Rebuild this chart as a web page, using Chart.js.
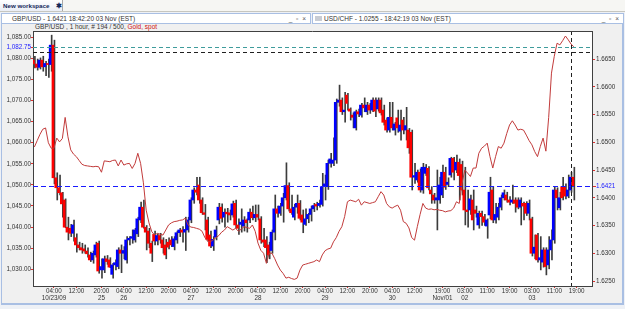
<!DOCTYPE html>
<html>
<head>
<meta charset="utf-8">
<script src="https://cdn.jsdelivr.net/npm/chart.js@4.4.0/dist/chart.umd.min.js"></script>
<style>
  html, body { margin: 0; padding: 0; }
  body { width: 625px; height: 309px; position: relative; overflow: hidden; background: #eef1f6; font-family: "Liberation Sans", Arial, sans-serif; }
  #tabs { position: absolute; left: 0; top: 0; width: 625px; height: 11px; background: #f6f6f3; border-bottom: 1px solid #c6c6bf; }
  #tab { position: absolute; left: 0; top: 0; width: 63px; height: 11px; box-sizing: border-box; padding-left: 3px; background: linear-gradient(#ffffff, #eaeef6); border-right: 1px solid #a8a8a8; font: bold 6.2px "Liberation Sans"; line-height: 11px; color: #15285a; }
  #tab .star { position: absolute; left: 56px; top: 0; font-size: 6.5px; }
  #chartbg { position: absolute; left: 1px; top: 23px; width: 620px; height: 280px; background: #f0f0f0; border-left: 1px solid #a9bfe3; border-right: 2px solid #a9bfe3; border-bottom: 2px solid #a9bfe3; }
  .head { position: absolute; top: 13px; height: 9px; background: #fff; border: 1px solid #a9bfe3; font: 6.5px "Liberation Sans"; line-height: 9px; color: #333; }
  #h1 { left: 1px; width: 308px; }
  #h2 { left: 312px; width: 310px; }
  .head .ttl { position: absolute; left: 10px; top: 0; }
  #h2 .ttl { left: 11px; }
  .head .ico { position: absolute; left: 2px; top: 2px; width: 7px; height: 5px; background: #c8ccd4; }
  .head .btn { position: absolute; right: 3px; top: 0; letter-spacing: 1px; color: #555; }
  #sub { position: absolute; left: 35px; top: 23px; font: 6.5px "Liberation Sans"; line-height: 8px; color: #333; }
  #sub .red { color: #d01010; }
  #c { position: absolute; left: 0; top: 0; }
</style>
</head>
<body>
<div id="tabs"><div id="tab">New workspace <span class="star">✱</span></div></div>
<div id="chartbg"></div>
<div class="head" id="h1"><span class="ttl">GBP/USD - 1.6421 18:42:20 03 Nov (EST)</span><span class="btn">_ ▫ ×</span></div>
<div class="head" id="h2"><span class="ico"></span><span class="ttl">USD/CHF - 1.0255 - 18:42:19 03 Nov (EST)</span><span class="btn">_ ▫ ×</span></div>
<div id="sub">GBP/USD , 1 hour, # 194 / 500, <span class="red">Gold, spot</span></div>
<canvas id="c" width="625" height="309"></canvas>

<script>
// GBP/USD hourly candles (right axis) with Gold spot line (left axis)

const slotCount = 200; // bar slots on the x axis, 194 filled

const open = [
  1.6648,1.6641,1.6635,1.6648,1.6636,1.6642,1.6640,1.6675,1.6436,1.6418,
  1.6409,1.6396,1.6347,1.6345,1.6336,1.6328,1.6315,1.6310,1.6308,1.6304,
  1.6297,1.6288,1.6297,1.6318,1.6270,1.6270,1.6290,1.6288,1.6262,1.6279,
  1.6276,1.6306,1.6300,1.6288,1.6324,1.6327,1.6324,1.6335,1.6360,1.6383,
  1.6347,1.6340,1.6318,1.6334,1.6322,1.6332,1.6324,1.6315,1.6320,1.6324,
  1.6312,1.6324,1.6337,1.6342,1.6338,1.6342,1.6360,1.6396,1.6414,1.6423,
  1.6396,1.6373,1.6360,1.6333,1.6313,1.6329,1.6360,1.6383,1.6365,1.6374,
  1.6373,1.6369,1.6390,1.6351,1.6352,1.6349,1.6360,1.6360,1.6374,1.6364,
  1.6370,1.6362,1.6324,1.6324,1.6315,1.6305,1.6338,1.6380,1.6372,1.6385,
  1.6400,1.6422,1.6380,1.6365,1.6383,1.6390,1.6369,1.6352,1.6362,1.6370,
  1.6380,1.6388,1.6386,1.6388,1.6420,1.6420,1.6462,1.6462,1.6468,1.6572,
  1.6576,1.6555,1.6585,1.6560,1.6549,1.6526,1.6555,1.6549,1.6567,1.6555,
  1.6567,1.6558,1.6576,1.6560,1.6576,1.6558,1.6540,1.6522,1.6545,1.6522,
  1.6544,1.6520,1.6540,1.6522,1.6522,1.6518,1.6437,1.6432,1.6446,1.6414,
  1.6444,1.6453,1.6414,1.6405,1.6396,1.6396,1.6405,1.6446,1.6424,1.6441,
  1.6471,1.6450,1.6464,1.6460,1.6414,1.6378,1.6378,1.6396,1.6378,1.6351,
  1.6372,1.6366,1.6349,1.6369,1.6414,1.6360,1.6365,1.6383,1.6400,1.6405,
  1.6396,1.6392,1.6396,1.6396,1.6383,1.6390,1.6390,1.6372,1.6362,1.6300,
  1.6333,1.6288,1.6284,1.6306,1.6279,1.6306,1.6324,1.6414,1.6382,1.6420,
  1.6420,1.6403,1.6414,1.6437
];
const high = [
  1.6655,1.6650,1.6652,1.6655,1.6646,1.6650,1.6693,1.6684,1.6445,1.6441,
  1.6410,1.6398,1.6365,1.6352,1.6360,1.6335,1.6320,1.6318,1.6315,1.6310,
  1.6302,1.6304,1.6320,1.6322,1.6290,1.6295,1.6296,1.6292,1.6282,1.6288,
  1.6310,1.6315,1.6312,1.6330,1.6330,1.6342,1.6345,1.6365,1.6392,1.6396,
  1.6350,1.6345,1.6322,1.6340,1.6335,1.6336,1.6328,1.6325,1.6328,1.6330,
  1.6330,1.6340,1.6345,1.6348,1.6365,1.6365,1.6400,1.6418,1.6437,1.6437,
  1.6400,1.6388,1.6365,1.6340,1.6330,1.6349,1.6390,1.6389,1.6380,1.6381,
  1.6378,1.6394,1.6396,1.6362,1.6380,1.6366,1.6362,1.6380,1.6385,1.6387,
  1.6387,1.6366,1.6345,1.6330,1.6320,1.6342,1.6405,1.6385,1.6390,1.6408,
  1.6463,1.6427,1.6405,1.6388,1.6405,1.6395,1.6378,1.6380,1.6372,1.6385,
  1.6390,1.6392,1.6396,1.6444,1.6441,1.6468,1.6480,1.6508,1.6578,1.6603,
  1.6580,1.6590,1.6588,1.6562,1.6553,1.6558,1.6560,1.6570,1.6580,1.6572,
  1.6570,1.6580,1.6580,1.6580,1.6580,1.6567,1.6544,1.6572,1.6572,1.6536,
  1.6558,1.6558,1.6545,1.6563,1.6525,1.6522,1.6462,1.6450,1.6452,1.6462,
  1.6460,1.6456,1.6420,1.6408,1.6450,1.6437,1.6459,1.6455,1.6436,1.6473,
  1.6473,1.6477,1.6470,1.6466,1.6455,1.6414,1.6405,1.6414,1.6385,1.6376,
  1.6376,1.6370,1.6362,1.6437,1.6420,1.6390,1.6390,1.6405,1.6414,1.6410,
  1.6402,1.6423,1.6400,1.6400,1.6400,1.6392,1.6393,1.6396,1.6365,1.6333,
  1.6336,1.6330,1.6310,1.6310,1.6330,1.6342,1.6420,1.6418,1.6410,1.6437,
  1.6425,1.6441,1.6446,1.6455
];
const low = [
  1.6634,1.6630,1.6632,1.6628,1.6620,1.6617,1.6628,1.6425,1.6396,1.6405,
  1.6365,1.6346,1.6324,1.6330,1.6322,1.6302,1.6306,1.6300,1.6300,1.6293,
  1.6285,1.6282,1.6293,1.6264,1.6255,1.6265,1.6280,1.6274,1.6255,1.6270,
  1.6272,1.6265,1.6290,1.6282,1.6315,1.6318,1.6320,1.6330,1.6355,1.6345,
  1.6306,1.6310,1.6285,1.6315,1.6315,1.6318,1.6300,1.6290,1.6308,1.6312,
  1.6306,1.6318,1.6330,1.6320,1.6305,1.6338,1.6355,1.6390,1.6405,1.6390,
  1.6370,1.6342,1.6322,1.6310,1.6305,1.6324,1.6353,1.6356,1.6347,1.6356,
  1.6360,1.6365,1.6345,1.6334,1.6338,1.6340,1.6338,1.6355,1.6360,1.6357,
  1.6360,1.6318,1.6312,1.6283,1.6290,1.6300,1.6324,1.6365,1.6368,1.6356,
  1.6396,1.6376,1.6370,1.6360,1.6372,1.6360,1.6337,1.6350,1.6355,1.6358,
  1.6375,1.6378,1.6383,1.6385,1.6396,1.6415,1.6455,1.6458,1.6462,1.6565,
  1.6550,1.6536,1.6558,1.6540,1.6526,1.6522,1.6546,1.6545,1.6555,1.6550,
  1.6552,1.6555,1.6546,1.6556,1.6549,1.6531,1.6518,1.6518,1.6522,1.6513,
  1.6518,1.6504,1.6515,1.6504,1.6480,1.6414,1.6426,1.6428,1.6410,1.6408,
  1.6440,1.6414,1.6390,1.6390,1.6342,1.6390,1.6400,1.6415,1.6420,1.6437,
  1.6432,1.6445,1.6396,1.6405,1.6351,1.6347,1.6370,1.6342,1.6365,1.6345,
  1.6350,1.6350,1.6327,1.6362,1.6355,1.6354,1.6360,1.6378,1.6396,1.6392,
  1.6387,1.6390,1.6374,1.6380,1.6351,1.6360,1.6368,1.6360,1.6295,1.6290,
  1.6284,1.6270,1.6275,1.6261,1.6272,1.6288,1.6318,1.6378,1.6378,1.6396,
  1.6398,1.6400,1.6410,1.6396
];
const close = [
  1.6641,1.6635,1.6648,1.6636,1.6642,1.6640,1.6675,1.6436,1.6418,1.6409,
  1.6389,1.6347,1.6338,1.6336,1.6351,1.6315,1.6310,1.6306,1.6304,1.6299,
  1.6288,1.6300,1.6315,1.6268,1.6276,1.6290,1.6285,1.6275,1.6279,1.6283,
  1.6306,1.6300,1.6305,1.6324,1.6327,1.6330,1.6342,1.6362,1.6383,1.6347,
  1.6338,1.6318,1.6300,1.6322,1.6332,1.6324,1.6310,1.6297,1.6311,1.6315,
  1.6326,1.6337,1.6342,1.6338,1.6343,1.6360,1.6396,1.6414,1.6410,1.6396,
  1.6373,1.6370,1.6325,1.6313,1.6325,1.6342,1.6383,1.6363,1.6374,1.6371,
  1.6369,1.6389,1.6351,1.6345,1.6356,1.6360,1.6355,1.6374,1.6364,1.6370,
  1.6365,1.6324,1.6320,1.6310,1.6297,1.6338,1.6380,1.6372,1.6385,1.6400,
  1.6422,1.6380,1.6373,1.6383,1.6390,1.6363,1.6356,1.6362,1.6370,1.6380,
  1.6386,1.6385,1.6390,1.6420,1.6425,1.6462,1.6470,1.6468,1.6572,1.6576,
  1.6555,1.6558,1.6570,1.6556,1.6545,1.6555,1.6551,1.6567,1.6562,1.6567,
  1.6558,1.6576,1.6556,1.6576,1.6553,1.6536,1.6522,1.6545,1.6526,1.6533,
  1.6526,1.6531,1.6522,1.6530,1.6490,1.6437,1.6440,1.6446,1.6414,1.6455,
  1.6455,1.6418,1.6407,1.6396,1.6400,1.6423,1.6446,1.6419,1.6428,1.6471,
  1.6446,1.6464,1.6440,1.6414,1.6378,1.6375,1.6398,1.6360,1.6372,1.6372,
  1.6366,1.6356,1.6360,1.6410,1.6360,1.6370,1.6383,1.6400,1.6409,1.6396,
  1.6392,1.6396,1.6390,1.6383,1.6396,1.6385,1.6372,1.6390,1.6300,1.6311,
  1.6288,1.6292,1.6306,1.6276,1.6306,1.6324,1.6414,1.6400,1.6400,1.6400,
  1.6403,1.6414,1.6437,1.6421
];
const gold = [
  1059.0,1060.5,1062.0,1063.2,1063.5,1060.0,1058.7,1058.7,1061.1,1060.2,
  1061.0,1066.0,1061.4,1058.3,1057.3,1056.7,1055.8,1054.9,1054.6,1054.5,
  1054.4,1054.3,1054.4,1054.3,1053.0,1055.7,1055.6,1055.5,1055.8,1055.9,
  1054.5,1055.9,1054.7,1055.0,1055.1,1053.9,1055.1,1057.5,1055.1,1050.5,
  1044.0,1041.0,1038.9,1038.1,1038.5,1038.3,1038.1,1039.3,1040.5,1041.0,
  1041.3,1041.4,1041.6,1041.7,1042.1,1040.5,1040.0,1039.9,1039.7,1039.5,
  1039.0,1037.5,1036.6,1036.5,1037.0,1037.5,1038.0,1038.8,1039.3,1040.1,
  1039.7,1039.3,1039.7,1039.0,1039.5,1040.1,1039.9,1039.7,1040.5,1039.0,
  1036.2,1034.5,1033.8,1031.4,1033.8,1033.8,1032.5,1031.0,1029.8,1029.0,
  1027.9,1028.1,1027.8,1027.6,1027.9,1029.8,1031.0,1031.2,1031.4,1031.6,
  1031.8,1032.2,1031.8,1033.4,1034.4,1034.8,1035.0,1036.5,1037.5,1039.0,
  1040.1,1042.5,1046.0,1046.4,1046.2,1046.0,1046.6,1045.2,1046.0,1045.8,
  1045.6,1045.8,1046.0,1047.2,1048.4,1047.6,1045.6,1044.8,1044.5,1044.9,
  1045.2,1044.0,1041.3,1040.9,1039.8,1037.5,1036.9,1040.1,1043.0,1045.6,
  1044.5,1044.2,1044.3,1044.1,1044.2,1044.0,1043.9,1043.6,1043.8,1043.9,
  1044.5,1046.0,1045.6,1050.4,1053.5,1052.8,1052.0,1054.0,1054.0,1057.5,
  1058.7,1059.2,1059.9,1056.7,1054.0,1056.7,1059.1,1058.7,1059.9,1062.2,
  1064.2,1065.2,1064.2,1063.0,1063.2,1063.0,1061.8,1060.5,1059.5,1057.9,
  1056.7,1059.1,1061.1,1058.0,1066.0,1076.5,1080.5,1083.6,1083.2,1084.2,
  1085.3,1084.4,1083.4,1082.75
];

// x axis labels: bar slot, hour, date
const tickIdx  = [7, 15, 24, 32, 40, 48, 56, 64, 72, 80, 88, 96, 104, 112, 120, 128, 136, 146, 154, 162, 170, 178, 186, 194];
const tickTime = ['04:00','12:00','20:00','04:00','12:00','20:00','04:00','12:00','20:00','04:00','12:00','20:00',
                  '04:00','12:00','20:00','04:00','12:00','19:00','03:00','11:00','19:00','03:00','11:00','19:00'];
const tickDate = ['10/23/09','','25','26','','','27','','','28','','','29','','','30','','Nov/01','02','','','03','',''];

const goldTicks = [1030, 1035, 1040, 1045, 1050, 1055, 1060, 1065, 1070, 1075, 1080, 1085];
const gbpTicks  = [1.6250, 1.6300, 1.6350, 1.6400, 1.6450, 1.6500, 1.6550, 1.6600, 1.6650];

// markers
const goldLast  = 1082.75;
const goldCross = 1081.4;
const gbpLast   = 1.6421;
const cursorBar = 192;

const FONT = 'Liberation Sans';
const RED_TICK = '#e03030';

const slots = Array.from({ length: slotCount }, (_, i) => i);
const wicks = low.map((l, i) => [l, high[i]]);
const bodies = open.map((o, i) => [o, close[i]]);
const bodyColors = open.map((o, i) => close[i] >= o ? '#0000ff' : '#ff0000');

const fmtGold = v => v.toLocaleString('en-US', { minimumFractionDigits: 2, maximumFractionDigits: 2 });

// white plot area, frame, dashed price lines and highlighted last values
const overlay = {
  id: 'overlay',
  beforeDraw(chart) {
    const { ctx, chartArea: a } = chart;
    ctx.save();
    ctx.fillStyle = '#ffffff';
    ctx.fillRect(a.left, a.top, a.width, a.height);
    ctx.restore();
  },
  afterDraw(chart) {
    const { ctx, chartArea: a, scales } = chart;
    ctx.save();
    ctx.lineWidth = 1;

    const hline = (y, color, dash) => {
      ctx.strokeStyle = color;
      ctx.setLineDash(dash);
      ctx.beginPath();
      ctx.moveTo(a.left, Math.round(y) + 0.5);
      ctx.lineTo(a.right, Math.round(y) + 0.5);
      ctx.stroke();
    };
    hline(scales.y.getPixelForValue(goldLast), '#3f9c9c', [4, 3]);
    hline(scales.y.getPixelForValue(goldCross), '#202020', [4, 3]);
    hline(scales.y1.getPixelForValue(gbpLast), '#1a1aff', [5, 3]);

    const cx = Math.round(scales.x.getPixelForValue(cursorBar)) + 0.5;
    ctx.strokeStyle = '#202020';
    ctx.setLineDash([4, 3]);
    ctx.beginPath();
    ctx.moveTo(cx, a.top);
    ctx.lineTo(cx, a.bottom);
    ctx.stroke();

    ctx.setLineDash([]);
    ctx.strokeStyle = '#404040';
    ctx.beginPath();
    ctx.moveTo(a.left, a.top + 0.5);
    ctx.lineTo(a.right, a.top + 0.5);
    ctx.stroke();

    // last value labels
    ctx.font = `6.3px "${FONT}"`;
    ctx.textBaseline = 'middle';
    const gy = scales.y.getPixelForValue(goldLast);
    ctx.textAlign = 'right';
    ctx.fillStyle = '#f0f0f0';
    ctx.fillRect(a.left - 31, gy - 4, 29, 8);
    ctx.fillStyle = '#1a1aff';
    ctx.fillText(fmtGold(goldLast), a.left - 2, gy);
    ctx.fillStyle = RED_TICK;
    ctx.fillRect(a.left - 2, Math.round(gy), 2, 1);

    const ry = scales.y1.getPixelForValue(gbpLast);
    ctx.textAlign = 'left';
    ctx.fillStyle = '#1a1aff';
    ctx.fillText(gbpLast.toFixed(4), a.right + 4, ry);
    ctx.fillStyle = RED_TICK;
    ctx.fillRect(a.right + 1, Math.round(ry), 3, 1);
    ctx.restore();
  }
};

new Chart(document.getElementById('c'), {
  data: {
    labels: slots,
    datasets: [
      {
        type: 'line',
        label: 'Gold, spot',
        data: gold,
        yAxisID: 'y',
        borderColor: '#c23b3b',
        borderWidth: 1,
        pointRadius: 0,
        tension: 0,
        order: 0
      },
      {
        // body sits left of the wick inside each slot
        type: 'bar',
        label: 'body',
        data: bodies,
        yAxisID: 'y1',
        backgroundColor: bodyColors,
        barThickness: 2,
        minBarLength: 1,
        order: 1
      },
      {
        type: 'bar',
        label: 'wick',
        data: wicks,
        yAxisID: 'y1',
        backgroundColor: '#3c3c3c',
        barThickness: 1,
        order: 2
      }
    ]
  },
  options: {
    responsive: false,
    animation: false,
    events: [],
    layout: { padding: { top: 31, left: 0, right: 0, bottom: 0 } },
    plugins: { legend: { display: false }, tooltip: { enabled: false } },
    scales: {
      x: {
        type: 'category',
        offset: true,
        grid: { drawOnChartArea: false, offset: false, tickLength: 2, tickColor: RED_TICK },
        border: { display: true, color: '#404040' },
        ticks: {
          autoSkip: false,
          maxRotation: 0,
          padding: 0,
          color: '#333',
          font: { family: FONT, size: 6.3, lineHeight: 1.12 },
          callback: v => {
            const k = tickIdx.indexOf(v);
            return k < 0 ? '' : [tickTime[k], tickDate[k]];
          }
        },
        afterBuildTicks: s => { s.ticks = tickIdx.map(v => ({ value: v })); },
        afterFit: s => { s.height = 23; }
      },
      y: {
        position: 'left',
        min: 1026.03,
        max: 1086.49,
        grid: { drawOnChartArea: false, tickLength: 2, tickColor: RED_TICK },
        border: { display: true, color: '#404040' },
        ticks: { padding: 0, color: '#333', font: { family: FONT, size: 6.3 }, callback: v => fmtGold(v) },
        afterBuildTicks: s => { s.ticks = goldTicks.map(v => ({ value: v })); },
        afterFit: s => { s.width = 33; }
      },
      y1: {
        position: 'right',
        min: 1.6241,
        max: 1.67005,
        grid: { drawOnChartArea: false, tickLength: 3, tickColor: RED_TICK },
        border: { display: true, color: '#404040' },
        ticks: { padding: 1, color: '#333', font: { family: FONT, size: 6.3 }, callback: v => v.toFixed(4) },
        afterBuildTicks: s => { s.ticks = gbpTicks.map(v => ({ value: v })); },
        afterFit: s => { s.width = 33; }
      }
    }
  },
  plugins: [overlay]
});
</script>
</body>
</html>
